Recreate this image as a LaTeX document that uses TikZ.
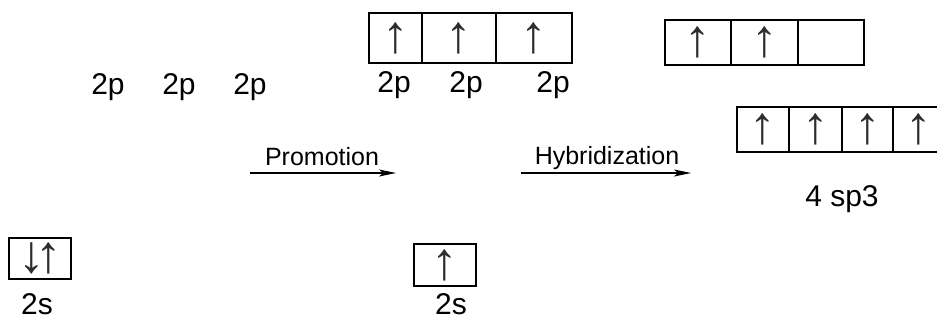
\documentclass[tikz,border=0pt]{standalone}
\usepackage{fontspec}
\setmainfont{Liberation Sans}
\usetikzlibrary{positioning,arrows.meta}
\definecolor{OrbInk}{RGB}{0,0,0}
\definecolor{SpinInk}{RGB}{45,45,45}
\tikzset{
    orb/.style={draw=OrbInk, line width=1.3pt, inner sep=0pt, outer sep=0pt, minimum height=45pt, text=SpinInk, font=\fontsize{53}{53}\selectfont},
    orblabel/.style={font=\fontsize{30}{30}\selectfont, anchor=base, inner sep=0pt},
    steplabel/.style={font=\fontsize{25}{25}\selectfont, anchor=base, inner sep=0pt},
    steparrow/.style={-{Stealth[length=17pt,width=7pt,inset=4pt]}, line width=1.2pt, draw=OrbInk}
}
\begin{document}
\begin{tikzpicture}[x=1pt,y=-1pt]
    \useasboundingbox (0,0) rectangle (937,320);
    \clip (0,0) rectangle (937,320);
    % ground state
    \node[orblabel] (gp1) at (108,95) {2p};
    \node[orblabel] (gp2) at (179,95) {2p};
    \node[orblabel] (gp3) at (250,95) {2p};
    \node[orb, minimum width=62pt, minimum height=41pt, anchor=north west] (gs) at (9,238) {↓\kern-10pt↑};
    \node[orblabel] (gslab) at (37,315) {2s};
    % promoted state
    \node[orb, minimum width=53pt, minimum height=50pt, anchor=north west] (pa) at (369,13) {↑};
    \node[orb, minimum width=74pt, minimum height=50pt, right=0pt of pa] (pb) {↑};
    \node[orb, minimum width=76pt, minimum height=50pt, right=0pt of pb] (pc) {↑};
    \node[orblabel] (pp1) at (394,93) {2p};
    \node[orblabel] (pp2) at (466,93) {2p};
    \node[orblabel] (pp3) at (553,93) {2p};
    \node[orb, minimum width=62pt, minimum height=42pt, anchor=north west] (ps) at (414,244) {↑};
    \node[orblabel] (pslab) at (451,315) {2s};
    % hybridized state
    \node[orb, minimum width=66pt, anchor=north west] (ha) at (665,20) {↑};
    \node[orb, minimum width=67pt, right=0pt of ha] (hb) {↑};
    \node[orb, minimum width=66pt, right=0pt of hb] (hc) {};
    \node[orb, minimum width=52pt, anchor=north west] (sa) at (737,107) {↑};
    \node[orb, minimum width=53pt, right=0pt of sa] (sb) {↑};
    \node[orb, minimum width=51pt, right=0pt of sb] (sc) {↑};
    \node[orb, minimum width=52pt, right=0pt of sc] (sd) {↑};
    \node[orblabel] (splab) at (842,207) {4 sp3};
    % steps
    \coordinate (promL) at (250,173);
    \coordinate (promR) at (396,173);
    \coordinate (hybL) at (521,173);
    \coordinate (hybR) at (691,173);
    \draw[steparrow] (promL) -- (promR);
    \draw[steparrow] (hybL) -- (hybR);
    \node[steplabel] (promtxt) at (322,166) {Promotion};
    \node[steplabel] (hybtxt) at (607,165) {Hybridization};
\end{tikzpicture}
\end{document}
